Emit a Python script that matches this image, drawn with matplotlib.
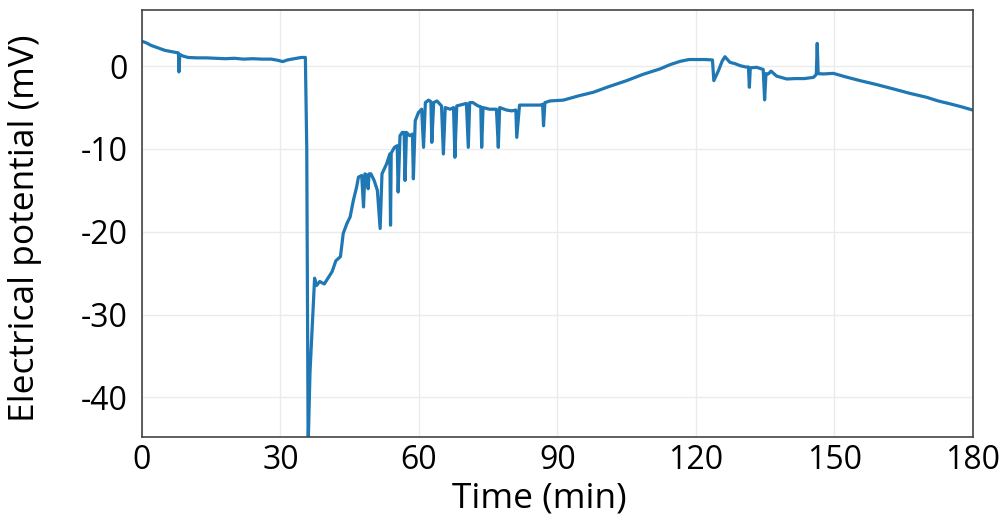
import matplotlib
matplotlib.use("Agg")
import matplotlib.pyplot as plt

plt.rcParams['font.family'] = ['Open Sans', 'DejaVu Sans']
plt.rcParams['axes.unicode_minus'] = False

# time (min) and potential (mV)
time_min = [
    0, 1, 2, 3, 4, 5, 6, 7, 7.9, 8.0, 8.2, 9, 10, 12, 14, 16, 18, 20, 22, 24,
    26, 28, 29.5, 30.5, 31.5, 33, 34.5, 35.4, 35.7, 36.0, 36.4, 37.0, 37.4,
    37.8, 38.5, 39.5, 40.3, 41.2, 42.0, 43.0, 43.6, 44.4, 45.1, 45.8, 46.5,
    46.9, 47.6, 48.0, 48.3, 48.8, 49.0, 49.2, 49.6, 50.3, 51.0, 51.6, 52.0,
    53.0, 53.7, 53.85, 54.0, 54.7, 55.3, 55.5, 55.9, 56.4, 56.8, 57.0, 57.3,
    58.0, 58.6, 58.8, 59.2, 59.9, 60.6, 61.0, 61.4, 62.1, 62.6, 62.8, 63.2,
    63.9, 64.9, 65.3, 65.7, 66.8, 67.5, 67.8, 68.2, 69.6, 70.3, 70.7, 71.0,
    71.7, 72.8, 73.4, 73.6, 73.9, 75.3, 76.8, 77.2, 77.5, 79.0, 80.1, 81.0,
    81.2, 81.8, 84.1, 86.3, 86.8, 87.0, 87.3, 88.4, 91.3, 94.5, 97.8, 101,
    105, 108.5, 112.2, 114.5, 116.6, 118.5, 120.2, 122, 123.6, 123.9, 124.9,
    125.7, 126.3, 127.4, 128.5, 129.6, 130.8, 131.4, 131.6, 131.8, 133.2,
    134.6, 134.9, 135.2, 135.7, 136.3, 137.5, 139.7, 141.5, 143.5, 145.5,
    146.1, 146.3, 146.5, 147.6, 149.8, 152.5, 155.6, 159, 162.8, 166.5, 170,
    172.5, 175.1, 177.5, 180,
]
potential_mv = [
    3.0, 2.8, 2.5, 2.3, 2.1, 1.9, 1.8, 1.7, 1.6, -0.7, 1.4, 1.2, 1.05, 1.0,
    1.0, 0.95, 0.9, 0.95, 0.85, 0.9, 0.85, 0.85, 0.7, 0.55, 0.75, 0.9, 1.05,
    1.05, -10, -46, -37, -30, -25.6, -26.5, -26.0, -26.3, -25.6, -24.8, -23.5,
    -23.0, -20.2, -19.0, -18.2, -16.2, -14.6, -13.4, -13.2, -17.0, -13.0,
    -13.2, -14.8, -13.0, -13.0, -13.8, -15.0, -19.6, -13.0, -11.8, -10.6,
    -19.2, -10.5, -9.8, -9.6, -15.2, -8.4, -8.0, -8.0, -13.8, -8.0, -8.4,
    -8.2, -13.6, -6.6, -5.6, -5.2, -9.8, -4.4, -4.1, -4.3, -9.2, -4.4, -4.2,
    -4.8, -10.6, -5.0, -5.2, -5.0, -11.0, -4.8, -4.6, -4.5, -9.8, -4.4, -4.4,
    -4.8, -4.9, -9.8, -5.0, -5.2, -5.2, -9.8, -5.0, -5.3, -5.4, -5.3, -8.6,
    -4.7, -4.7, -4.7, -4.6, -7.2, -4.4, -4.2, -4.1, -3.6, -3.15, -2.5, -1.75,
    -1.0, -0.34, 0.2, 0.58, 0.8, 0.8, 0.8, 0.75, -1.75, -0.54, 0.6, 1.14,
    0.46, 0.3, 0.06, -0.1, -0.1, -2.55, -0.2, -0.14, -0.4, -4.07, -0.9, -0.94,
    -0.6, -1.2, -1.55, -1.5, -1.5, -1.35, -1.0, 2.75, -0.9, -0.94, -0.87,
    -1.3, -1.75, -2.2, -2.75, -3.3, -3.76, -4.2, -4.55, -4.9, -5.3,
]

x_ticks = [0, 30, 60, 90, 120, 150, 180]
y_ticks = [-40, -30, -20, -10, 0]

fig = plt.figure(figsize=(10.07, 5.18), dpi=100)
ax = fig.add_axes([0.141, 0.156, 0.825, 0.825])

ax.plot(time_min, potential_mv, color='#1f77b4', lw=2.3)

ax.set_xlim(0, 180)
ax.set_ylim(-44.8, 6.8)
ax.set_xticks(x_ticks)
ax.set_yticks(y_ticks)
ax.tick_params(length=0, labelsize=23)
ax.tick_params(axis='x', pad=5)
ax.tick_params(axis='y', pad=10)
ax.grid(color='#ebebeb', lw=1.0)
ax.set_axisbelow(True)
for s in ax.spines.values():
    s.set_color('#444444')
    s.set_linewidth(1.2)

ax.set_xlabel('Time (min)', fontsize=25.5)
ax.xaxis.set_label_coords(0.478, -0.104)
ax.set_ylabel('Electrical potential (mV)', fontsize=25.5)
ax.yaxis.set_label_coords(-0.12, 0.49)

fig.savefig('out.png', dpi=100)
